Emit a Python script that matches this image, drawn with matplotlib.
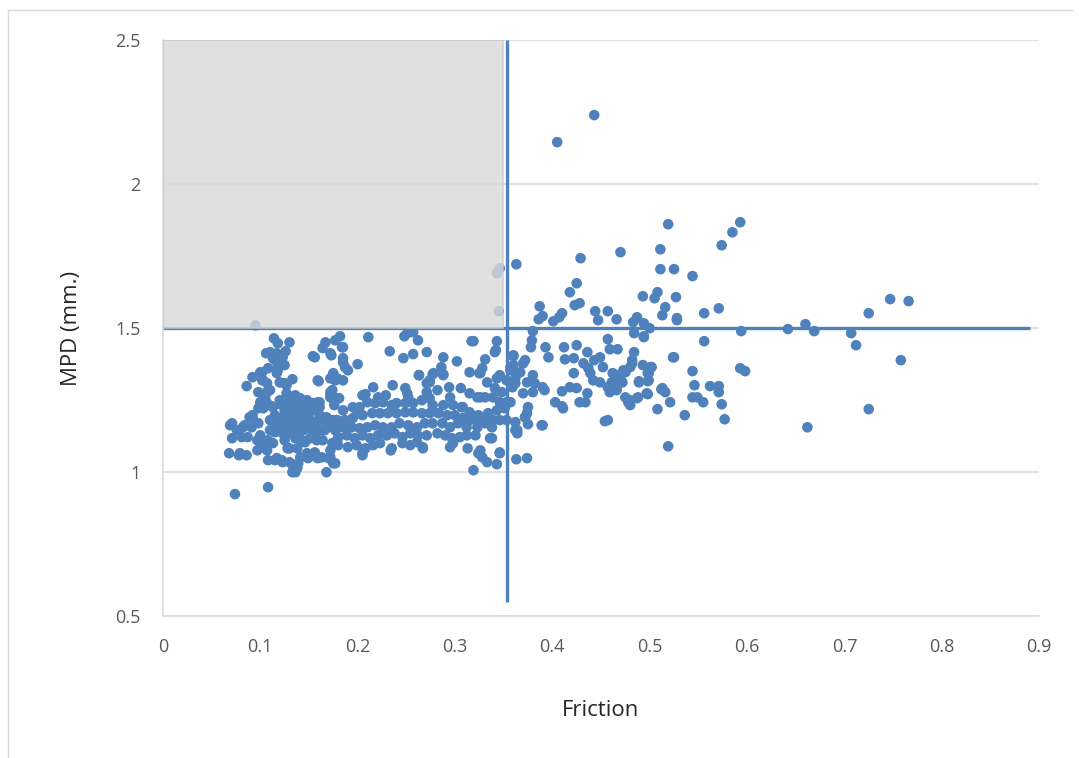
import matplotlib
matplotlib.use('Agg')
from matplotlib import pyplot as plt
from matplotlib.patches import Rectangle
from matplotlib.lines import Line2D
import numpy as np

plt.rcParams['font.family'] = ['Open Sans', 'DejaVu Sans']

# points above 1.5 mm or far right
upper_x = [0.443, 0.405, 0.519, 0.593, 0.585, 0.574, 0.511, 0.470, 0.429, 0.363,
           0.511, 0.525, 0.544, 0.425, 0.418, 0.428, 0.423, 0.387, 0.390, 0.386,
           0.410, 0.407, 0.401, 0.444, 0.457, 0.447, 0.466, 0.487, 0.483, 0.493,
           0.508, 0.505, 0.516, 0.513, 0.527, 0.528, 0.494, 0.556, 0.571, 0.500,
           0.594, 0.642, 0.660, 0.669, 0.707, 0.712, 0.725, 0.747, 0.766, 0.758,
           0.725, 0.662, 0.343, 0.346, 0.345, 0.095]
upper_y = [2.240, 2.146, 1.861, 1.868, 1.833, 1.788, 1.774, 1.764, 1.743, 1.722,
           1.705, 1.705, 1.681, 1.656, 1.625, 1.587, 1.580, 1.576, 1.542, 1.531,
           1.552, 1.538, 1.524, 1.559, 1.559, 1.528, 1.531, 1.538, 1.521, 1.611,
           1.625, 1.604, 1.573, 1.545, 1.608, 1.535, 1.517, 1.552, 1.569, 1.500,
           1.490, 1.497, 1.514, 1.490, 1.483, 1.441, 1.552, 1.601, 1.594, 1.389,
           1.219, 1.156, 1.691, 1.708, 1.559, 1.510]

# right of the friction threshold, below 1.5 mm
right_x = [0.380, 0.494, 0.379, 0.378, 0.457, 0.393, 0.412, 0.425, 0.436, 0.459,
           0.467, 0.484, 0.525, 0.396, 0.413, 0.422, 0.360, 0.372, 0.370, 0.432,
           0.443, 0.449, 0.437, 0.452, 0.482, 0.493, 0.502, 0.357, 0.364, 0.380,
           0.422, 0.439, 0.462, 0.475, 0.480, 0.499, 0.374, 0.382, 0.390, 0.362,
           0.442, 0.449, 0.461, 0.472, 0.489, 0.499, 0.457, 0.466, 0.459, 0.410,
           0.418, 0.425, 0.370, 0.380, 0.392, 0.475, 0.488, 0.497, 0.513, 0.516,
           0.436, 0.428, 0.434, 0.403, 0.410, 0.411, 0.375, 0.374, 0.372, 0.353,
           0.478, 0.521, 0.508, 0.362, 0.364, 0.375, 0.389, 0.454, 0.519, 0.482,
           0.473, 0.466, 0.470, 0.462, 0.466, 0.480, 0.480, 0.487, 0.498, 0.512,
           0.536, 0.544, 0.544, 0.549, 0.555, 0.562, 0.571, 0.571, 0.574, 0.577,
           0.556, 0.524, 0.501, 0.498, 0.489, 0.498, 0.593, 0.598, 0.546, 0.484,
           0.494, 0.528, 0.363, 0.374, 0.362, 0.364, 0.372, 0.353, 0.351, 0.357,
           0.359, 0.353, 0.362, 0.357, 0.360, 0.367, 0.360, 0.390, 0.457]
right_y = [1.490, 1.469, 1.458, 1.434, 1.462, 1.434, 1.434, 1.441, 1.417, 1.427,
           1.427, 1.417, 1.399, 1.399, 1.392, 1.396, 1.403, 1.389, 1.378, 1.378,
           1.389, 1.399, 1.361, 1.365, 1.378, 1.372, 1.365, 1.365, 1.344, 1.337,
           1.344, 1.344, 1.344, 1.347, 1.365, 1.344, 1.312, 1.309, 1.295, 1.309,
           1.319, 1.312, 1.312, 1.312, 1.312, 1.319, 1.295, 1.285, 1.278, 1.281,
           1.295, 1.292, 1.274, 1.278, 1.285, 1.260, 1.260, 1.274, 1.292, 1.278,
           1.274, 1.243, 1.243, 1.243, 1.229, 1.222, 1.226, 1.205, 1.191, 1.243,
           1.243, 1.243, 1.219, 1.174, 1.146, 1.167, 1.163, 1.177, 1.090, 1.389,
           1.354, 1.337, 1.319, 1.309, 1.292, 1.250, 1.233, 1.257, 1.271, 1.288,
           1.198, 1.351, 1.260, 1.260, 1.243, 1.299, 1.299, 1.278, 1.236, 1.184,
           1.455, 1.399, 1.365, 1.344, 1.316, 1.316, 1.361, 1.351, 1.302, 1.483,
           1.472, 1.528, 1.045, 1.049, 1.146, 1.135, 1.191, 1.181, 1.222, 1.243,
           1.295, 1.319, 1.326, 1.354, 1.372, 1.347, 1.406, 1.163, 1.181]

# main cluster, low friction
left_x = [0.069, 0.071, 0.068, 0.074, 0.108, 0.076, 0.078, 0.086, 0.079, 0.082,
          0.081, 0.087, 0.084, 0.089, 0.092, 0.091, 0.098, 0.100, 0.097, 0.097,
          0.103, 0.108, 0.113, 0.103, 0.107, 0.108, 0.115, 0.117, 0.122, 0.123,
          0.130, 0.133, 0.136, 0.134, 0.139, 0.138, 0.141, 0.149, 0.158, 0.163,
          0.172, 0.177, 0.168, 0.128, 0.130, 0.138, 0.148, 0.156, 0.086, 0.092,
          0.102, 0.100, 0.108, 0.103, 0.098, 0.110, 0.105, 0.107, 0.100, 0.103,
          0.105, 0.107, 0.113, 0.098, 0.092, 0.071, 0.114, 0.118, 0.130, 0.110,
          0.106, 0.117, 0.126, 0.123, 0.115, 0.118, 0.125, 0.117, 0.120, 0.102,
          0.107, 0.133, 0.120, 0.125, 0.127, 0.118, 0.113, 0.154, 0.164, 0.167,
          0.177, 0.173, 0.160, 0.175, 0.179, 0.159, 0.182, 0.185, 0.185, 0.187,
          0.190, 0.200, 0.211, 0.233, 0.247, 0.251, 0.248, 0.257, 0.262, 0.156,
          0.175, 0.177, 0.185, 0.172, 0.172, 0.181, 0.159, 0.161, 0.236, 0.216,
          0.208, 0.221, 0.229, 0.249, 0.252, 0.271, 0.288, 0.302, 0.319, 0.343,
          0.341, 0.331, 0.328, 0.325, 0.315, 0.333, 0.343, 0.184, 0.172, 0.185,
          0.172, 0.286, 0.277, 0.288, 0.263, 0.274, 0.282, 0.271, 0.251, 0.294,
          0.306, 0.295, 0.315, 0.323, 0.331, 0.339, 0.205, 0.179, 0.176, 0.185,
          0.195, 0.202, 0.200, 0.210, 0.218, 0.226, 0.235, 0.240, 0.249, 0.257,
          0.266, 0.274, 0.277, 0.288, 0.298, 0.307, 0.315, 0.324, 0.334, 0.343,
          0.346, 0.346, 0.339, 0.338, 0.329, 0.323, 0.315, 0.308, 0.300, 0.292,
          0.283, 0.274, 0.266, 0.257, 0.249, 0.240, 0.231, 0.223, 0.215, 0.205,
          0.195, 0.187, 0.179, 0.172, 0.177, 0.185, 0.194, 0.202, 0.210, 0.218,
          0.226, 0.235, 0.243, 0.252, 0.261, 0.269, 0.277, 0.287, 0.295, 0.303,
          0.312, 0.323, 0.331, 0.180, 0.189, 0.197, 0.205, 0.213, 0.221, 0.230,
          0.238, 0.246, 0.254, 0.262, 0.271, 0.282, 0.290, 0.297, 0.305, 0.312,
          0.321, 0.338, 0.180, 0.190, 0.199, 0.208, 0.216, 0.223, 0.235, 0.246,
          0.254, 0.267, 0.295, 0.298, 0.313, 0.205, 0.172, 0.175, 0.324, 0.328,
          0.333, 0.343, 0.346, 0.319, 0.159, 0.170, 0.205, 0.234, 0.326, 0.267,
          0.261, 0.317, 0.342, 0.257, 0.326, 0.263, 0.278, 0.288, 0.274, 0.271,
          0.346, 0.341, 0.326, 0.348, 0.308, 0.317, 0.336, 0.346, 0.130, 0.141,
          0.151, 0.125, 0.136, 0.146, 0.120, 0.130, 0.141, 0.151, 0.161, 0.156,
          0.136, 0.125, 0.146, 0.166, 0.115, 0.110, 0.120, 0.136, 0.127, 0.134,
          0.141, 0.148, 0.154, 0.161, 0.172, 0.174, 0.138, 0.144, 0.158, 0.164,
          0.168, 0.175, 0.179, 0.170, 0.161, 0.153, 0.144, 0.138, 0.130, 0.123,
          0.115, 0.117, 0.123, 0.130, 0.110, 0.117, 0.123, 0.130, 0.136, 0.143,
          0.151, 0.158, 0.164, 0.174, 0.179, 0.128, 0.135, 0.142, 0.150, 0.157,
          0.132, 0.139, 0.146, 0.153, 0.145, 0.121, 0.112, 0.149, 0.133, 0.140]
left_y = [1.163, 1.118, 1.066, 0.924, 0.948, 1.146, 1.059, 1.059, 1.066, 1.156,
          1.122, 1.122, 1.163, 1.191, 1.198, 1.156, 1.170, 1.128, 1.111, 1.076,
          1.094, 1.111, 1.101, 1.087, 1.076, 1.042, 1.042, 1.049, 1.042, 1.035,
          1.035, 1.000, 1.000, 1.017, 1.031, 1.014, 1.052, 1.049, 1.052, 1.052,
          1.052, 1.031, 1.000, 1.083, 1.083, 1.083, 1.066, 1.069, 1.299, 1.330,
          1.347, 1.347, 1.361, 1.319, 1.278, 1.285, 1.274, 1.278, 1.243, 1.222,
          1.257, 1.240, 1.226, 1.222, 1.191, 1.170, 1.465, 1.448, 1.451, 1.417,
          1.413, 1.413, 1.420, 1.399, 1.389, 1.365, 1.372, 1.344, 1.382, 1.319,
          1.309, 1.323, 1.312, 1.309, 1.302, 1.354, 1.396, 1.403, 1.431, 1.451,
          1.458, 1.406, 1.316, 1.344, 1.326, 1.319, 1.472, 1.434, 1.396, 1.365,
          1.354, 1.375, 1.469, 1.420, 1.396, 1.483, 1.472, 1.410, 1.458, 1.399,
          1.337, 1.319, 1.319, 1.278, 1.260, 1.257, 1.243, 1.226, 1.302, 1.295,
          1.271, 1.260, 1.267, 1.292, 1.260, 1.417, 1.399, 1.385, 1.455, 1.455,
          1.417, 1.392, 1.361, 1.344, 1.347, 1.312, 1.326, 1.434, 1.413, 1.382,
          1.326, 1.365, 1.340, 1.340, 1.337, 1.312, 1.285, 1.278, 1.274, 1.295,
          1.292, 1.260, 1.274, 1.260, 1.260, 1.260, 1.267, 1.257, 1.233, 1.215,
          1.226, 1.226, 1.205, 1.243, 1.240, 1.243, 1.233, 1.240, 1.240, 1.240,
          1.250, 1.257, 1.233, 1.233, 1.233, 1.226, 1.208, 1.198, 1.205, 1.215,
          1.243, 1.181, 1.181, 1.156, 1.191, 1.174, 1.181, 1.188, 1.198, 1.198,
          1.205, 1.205, 1.205, 1.208, 1.208, 1.205, 1.205, 1.205, 1.205, 1.198,
          1.188, 1.181, 1.181, 1.181, 1.146, 1.156, 1.156, 1.153, 1.156, 1.163,
          1.156, 1.156, 1.170, 1.163, 1.156, 1.170, 1.170, 1.170, 1.156, 1.170,
          1.156, 1.156, 1.170, 1.122, 1.128, 1.118, 1.128, 1.118, 1.128, 1.128,
          1.135, 1.122, 1.135, 1.128, 1.128, 1.135, 1.128, 1.118, 1.122, 1.128,
          1.128, 1.118, 1.094, 1.087, 1.094, 1.083, 1.094, 1.101, 1.083, 1.101,
          1.094, 1.083, 1.087, 1.101, 1.083, 1.066, 1.076, 1.031, 1.066, 1.052,
          1.035, 1.028, 1.066, 1.007, 1.049, 1.049, 1.059, 1.076, 1.076, 1.087,
          1.104, 1.455, 1.424, 1.486, 1.344, 1.337, 1.344, 1.337, 1.319, 1.309,
          1.337, 1.292, 1.260, 1.278, 1.226, 1.191, 1.118, 1.069, 1.250, 1.233,
          1.215, 1.215, 1.198, 1.181, 1.181, 1.163, 1.146, 1.163, 1.198, 1.128,
          1.128, 1.111, 1.104, 1.146, 1.198, 1.146, 1.250, 1.267, 1.274, 1.260,
          1.257, 1.250, 1.240, 1.243, 1.267, 1.285, 1.181, 1.191, 1.170, 1.181,
          1.191, 1.181, 1.156, 1.156, 1.146, 1.146, 1.146, 1.146, 1.135, 1.135,
          1.139, 1.156, 1.156, 1.170, 1.181, 1.181, 1.191, 1.205, 1.118, 1.111,
          1.118, 1.111, 1.111, 1.101, 1.111, 1.229, 1.222, 1.212, 1.205, 1.215,
          1.188, 1.174, 1.167, 1.177, 1.226, 1.236, 1.229, 1.195, 1.243, 1.240]

friction = np.array(upper_x + right_x + left_x)
mpd = np.array(upper_y + right_y + left_y)

friction_limit = 0.353
mpd_limit = 1.5

blue = '#4f81bd'

fig = plt.figure(figsize=(10.79, 7.58), dpi=100)
ax = fig.add_axes([0.151, 0.187, 0.812, 0.760])

ax.scatter(friction, mpd, s=58, color=blue, edgecolors='none', zorder=2)

# threshold lines
ax.plot([friction_limit, friction_limit], [0.55, 2.5], color=blue, lw=2.4, zorder=4, solid_capstyle='butt')
ax.plot([0, 0.891], [mpd_limit, mpd_limit], color=blue, lw=2.4, zorder=2.5, solid_capstyle='butt')

# shaded zone (low friction, high MPD)
ax.add_patch(Rectangle((0, mpd_limit), 0.349, 1.0, facecolor='#d9d9d9', alpha=0.8,
                       edgecolor='#c8c8c8', lw=1.2, zorder=3))

ax.set_xlim(0, 0.9)
ax.set_ylim(0.5, 2.5)
ax.set_xticks(np.arange(0, 0.91, 0.1))
ax.set_xticklabels(['0', '0.1', '0.2', '0.3', '0.4', '0.5', '0.6', '0.7', '0.8', '0.9'])
ax.set_yticks([0.5, 1, 1.5, 2, 2.5])
ax.set_yticklabels(['0.5', '1', '1.5', '2', '2.5'])
ax.tick_params(length=0, labelsize=13, labelcolor='#595959', pad=16)
ax.yaxis.grid(True, color='#d9d9d9', lw=1.1, zorder=0)
ax.set_axisbelow(True)
for s in ['top', 'right']:
    ax.spines[s].set_visible(False)
for s in ['left', 'bottom']:
    ax.spines[s].set_color('#d9d9d9')
    ax.spines[s].set_linewidth(1.1)

ax.set_xlabel('Friction', fontsize=16, color='#262626')
ax.set_ylabel('MPD (mm.)', fontsize=16, color='#262626')
ax.xaxis.set_label_coords(0.5, -0.145)
ax.yaxis.set_label_coords(-0.092, 0.5)

# outer chart frame (top and left edges visible)
fig.add_artist(Line2D([8/1079, 1072/1079], [1-10/758, 1-10/758], color='#d9d9d9', lw=1))
fig.add_artist(Line2D([8/1079, 8/1079], [0, 1-10/758], color='#d9d9d9', lw=1))

fig.savefig('out.png', dpi=100)
